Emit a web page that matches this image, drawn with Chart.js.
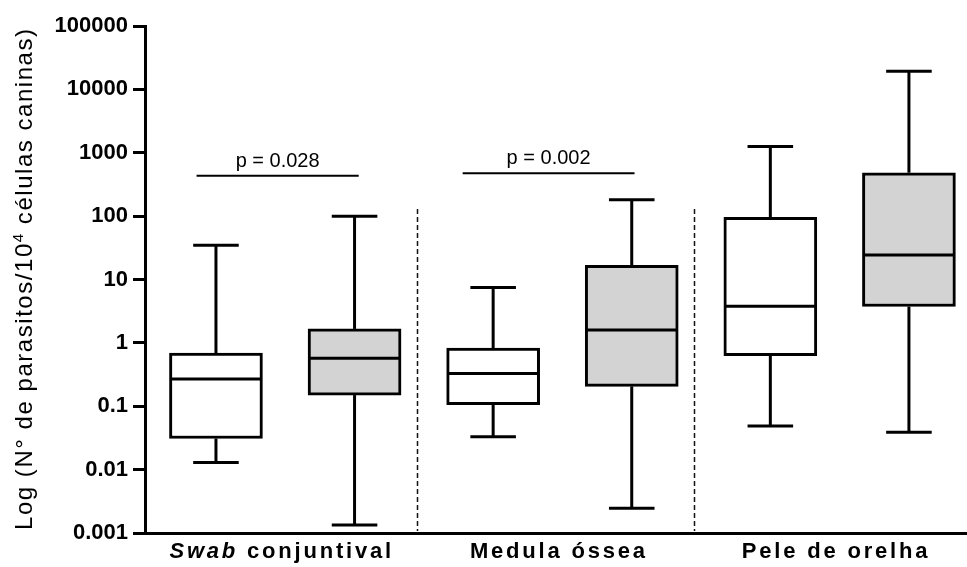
<!DOCTYPE html>
<html lang="pt">
<head>
<meta charset="utf-8">
<title>Carga parasitaria</title>
<script src="https://cdn.jsdelivr.net/npm/chart.js@4.4.1/dist/chart.umd.min.js"></script>
<style>
  body { margin: 0; background: #fff; }
</style>
</head>
<body>
<canvas id="myChart" width="967" height="567"></canvas>
<script>
// categories, two boxes per tissue (white then gray)
let groups = ['Swab conjuntival', 'Medula óssea', 'Pele de orelha'];
let italicWord = 'Swab';
let boxColors = ['#ffffff', '#d3d3d3'];

// box values, order: swab white, swab gray, medula white, medula gray, pele white, pele gray
let boxMin = [0.013, 0.00134, 0.033, 0.00245, 0.049, 0.039];
let boxQ1  = [0.031, 0.15, 0.106, 0.206, 0.63, 3.75];
let boxMed = [0.27, 0.57, 0.33, 1.6, 3.8, 24.4];
let boxQ3  = [0.69, 1.66, 0.83, 16.7, 96, 484];
let boxMax = [34.6, 100, 7.5, 182, 1250, 19400];

// y axis ticks
let yTicks = [0.001, 0.01, 0.1, 1, 10, 100, 1000, 10000, 100000];
let yTickLabels = ['0.001', '0.01', '0.1', '1', '10', '100', '1000', '10000', '100000'];

// comparisons
let pTexts = ['p = 0.028', 'p = 0.002'];
let pFrom  = [-0.14, 1.78];
let pTo    = [1.03, 3.02];
let pLevel = [435, 475];

let boxData = boxQ1.map((q1, i) => ({ x: i, y: [q1, boxQ3[i]] }));

const fontFamily = '"Liberation Sans", Arial, sans-serif';

function drawSpaced(ctx, text, x, y, sp) {
    for (const ch of text) {
        ctx.fillText(ch, x, y);
        x += ctx.measureText(ch).width + sp;
    }
    return x;
}

function spacedWidth(ctx, text, sp) {
    let w = 0;
    for (const ch of text) w += ctx.measureText(ch).width + sp;
    return w;
}

function segment(ctx, x1, y1, x2, y2) {
    ctx.beginPath();
    ctx.moveTo(x1, y1);
    ctx.lineTo(x2, y2);
    ctx.stroke();
}

// whiskers, medians, separators, p values and labels
const boxExtras = {
    id: 'boxExtras',
    afterDatasetsDraw(chart) {
        const { ctx, scales: { x, y } } = chart;
        const meta = chart.getDatasetMeta(0);
        ctx.save();
        ctx.strokeStyle = '#000';
        ctx.lineCap = 'butt';
        meta.data.forEach((bar, i) => {
            const cx = x.getPixelForValue(i);
            const half = bar.width / 2;
            const capHalf = bar.width * 0.245;
            ctx.lineWidth = 3;
            // median
            const my = y.getPixelForValue(boxMed[i]);
            segment(ctx, cx - half + 2, my, cx + half - 2, my);
            // upper whisker
            const q3 = y.getPixelForValue(boxQ3[i]);
            const hi = y.getPixelForValue(boxMax[i]);
            segment(ctx, cx, q3, cx, hi);
            segment(ctx, cx - capHalf, hi, cx + capHalf, hi);
            // lower whisker
            const q1 = y.getPixelForValue(boxQ1[i]);
            const lo = y.getPixelForValue(boxMin[i]);
            segment(ctx, cx, q1, cx, lo);
            segment(ctx, cx - capHalf, lo, cx + capHalf, lo);
        });
        ctx.restore();
    },
    afterDraw(chart) {
        const { ctx, chartArea, scales: { x, y } } = chart;
        ctx.save();

        // dashed separators between tissues
        ctx.strokeStyle = '#111';
        ctx.lineWidth = 1.5;
        ctx.setLineDash([5, 3]);
        [1.45, 3.45].forEach(v => {
            const px = Math.round(x.getPixelForValue(v)) + 0.5;
            segment(ctx, px, y.getPixelForValue(130), px, chartArea.bottom - 2);
        });
        ctx.setLineDash([]);

        // p values
        ctx.fillStyle = '#000';
        ctx.strokeStyle = '#000';
        ctx.lineWidth = 2;
        ctx.font = '20px ' + fontFamily;
        ctx.textAlign = 'center';
        ctx.textBaseline = 'alphabetic';
        pTexts.forEach((t, i) => {
            const x1 = x.getPixelForValue(pFrom[i]);
            const x2 = x.getPixelForValue(pTo[i]);
            const py = y.getPixelForValue(pLevel[i]);
            segment(ctx, x1, py, x2, py);
            ctx.fillText(t, (x1 + x2) / 2, py - 9);
        });

        // category labels under the axis
        ctx.textAlign = 'left';
        const sp = 2.8;
        groups.forEach((g, i) => {
            const parts = g.startsWith(italicWord)
                ? [[italicWord, 'italic bold 22px '], [g.slice(italicWord.length), 'bold 22px ']]
                : [[g, 'bold 22px ']];
            let total = 0;
            parts.forEach(p => {
                ctx.font = p[1] + fontFamily;
                total += spacedWidth(ctx, p[0], sp);
            });
            total -= sp;
            const cx = x.getPixelForValue(i * 2 + 0.5) - 5;
            let px = cx - total / 2;
            parts.forEach(p => {
                ctx.font = p[1] + fontFamily;
                px = drawSpaced(ctx, p[0], px, chartArea.bottom + 25, sp);
            });
        });

        // y axis title with superscript
        const t1 = 'Log (N° de parasitos/10';
        const sup = '4';
        const t2 = ' células caninas)';
        ctx.font = '24px ' + fontFamily;
        const natural = ctx.measureText(t1).width + ctx.measureText(t2).width;
        ctx.font = '15px ' + fontFamily;
        const supW = ctx.measureText(sup).width;
        const nChars = (t1 + t2).length;
        const target = 501;
        const tsp = (target - natural - supW) / nChars;
        ctx.translate(32, 279.5);
        ctx.rotate(-Math.PI / 2);
        let tx = -target / 2;
        ctx.font = '24px ' + fontFamily;
        tx = drawSpaced(ctx, t1, tx, 0, tsp);
        ctx.font = '15px ' + fontFamily;
        ctx.fillText(sup, tx, -9);
        tx += supW + tsp;
        ctx.font = '24px ' + fontFamily;
        drawSpaced(ctx, t2, tx, 0, tsp);

        ctx.restore();
    }
};

const config = {
    type: 'bar',
    data: {
        datasets: [{
            data: boxData,
            backgroundColor: boxData.map((d, i) => boxColors[i % 2]),
            borderColor: '#000',
            borderWidth: 3,
            borderSkipped: false,
            barThickness: 93,
            grouped: false
        }]
    },
    options: {
        responsive: false,
        animation: false,
        devicePixelRatio: 1,
        layout: { padding: { top: 26, right: 0, bottom: 0, left: 0 } },
        plugins: {
            legend: { display: false },
            tooltip: { enabled: false }
        },
        scales: {
            x: {
                type: 'linear',
                offset: false,
                min: -0.512,
                max: 5.419,
                ticks: { display: false },
                grid: { display: false },
                border: { display: true, width: 3, color: '#000' },
                afterFit: (s) => { s.height = 34; }
            },
            y: {
                type: 'logarithmic',
                min: 0.001,
                max: 100000,
                afterBuildTicks: (s) => { s.ticks = yTicks.map(v => ({ value: v })); },
                ticks: {
                    autoSkip: false,
                    padding: 5,
                    color: '#000',
                    font: { family: fontFamily, size: 22, weight: 'bold' },
                    callback: (v, i) => yTickLabels[i]
                },
                grid: { drawOnChartArea: false, tickLength: 12, lineWidth: 3, color: '#000' },
                border: { width: 3, color: '#000' },
                afterFit: (s) => { s.width = 145; }
            }
        }
    },
    plugins: [boxExtras]
};

const ctx = document.getElementById('myChart').getContext('2d');
const myChart = new Chart(ctx, config);
</script>
</body>
</html>
